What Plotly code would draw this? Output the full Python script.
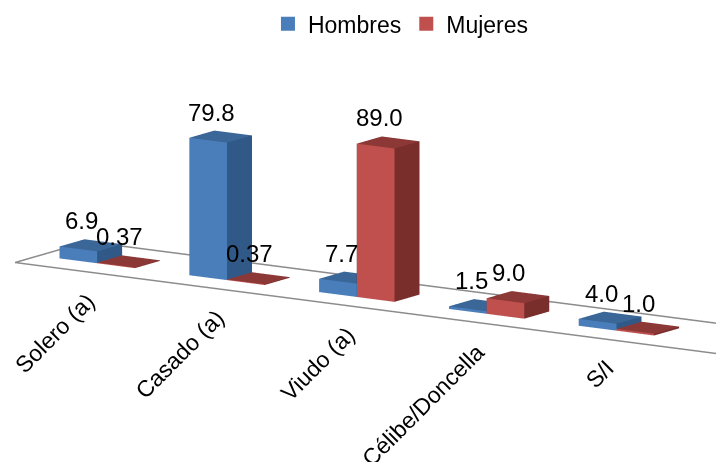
import plotly.graph_objects as go
import numpy as np

categories = ["Solero (a)", "Casado (a)", "Viudo (a)", "Célibe/Doncella", "S/I"]
hombres = [6.9, 79.8, 7.7, 1.5, 4.0]
mujeres = [0.37, 0.37, 89.0, 9.0, 1.0]
hombres_labels = ["6.9", "79.8", "7.7", "1.5", "4.0"]
mujeres_labels = ["0.37", "0.37", "89.0", "9.0", "1.0"]

BW = 0.29                # bar width (category units)
Y0, Y1 = 0.355, 0.645    # bar depth
FY0, FY1 = 0.08, 0.92    # floor depth

def bars_mesh(values, offset, c_front, c_side, c_top, name):
    xs, ys, zs, I, J, K, fc = [], [], [], [], [], [], []
    for idx, v in enumerate(values):
        x0 = idx + offset
        x1 = x0 + BW
        base = len(xs)
        for (x, y, z) in [(x0, Y0, 0), (x1, Y0, 0), (x1, Y1, 0), (x0, Y1, 0),
                          (x0, Y0, v), (x1, Y0, v), (x1, Y1, v), (x0, Y1, v)]:
            xs.append(x); ys.append(y); zs.append(z)
        faces = [
            ((0, 1, 5), c_front), ((0, 5, 4), c_front),
            ((1, 2, 6), c_side), ((1, 6, 5), c_side),
            ((4, 5, 6), c_top), ((4, 6, 7), c_top),
            ((3, 2, 6), c_side), ((3, 6, 7), c_side),
            ((0, 3, 7), c_side), ((0, 7, 4), c_side),
            ((0, 1, 2), c_side), ((0, 2, 3), c_side),
        ]
        for (a, b, c), col in faces:
            I.append(base + a); J.append(base + b); K.append(base + c); fc.append(col)
    return go.Mesh3d(x=xs, y=ys, z=zs, i=I, j=J, k=K, facecolor=fc,
                     flatshading=True, name=name, showlegend=False, hoverinfo="skip",
                     lighting=dict(ambient=1, diffuse=0, specular=0, roughness=1, fresnel=0))

BLUE = ("#4A7EBB", "#305987", "#3A6698")
RED = ("#C0504D", "#7A2E2C", "#8C3836")

fig = go.Figure()
fig.add_trace(bars_mesh(hombres, -BW, *BLUE, "Hombres"))
fig.add_trace(bars_mesh(mujeres, 0.0, *RED, "Mujeres"))

n = len(categories)
XMIN, XMAX = -0.45, 5.5
fig.add_trace(go.Scatter3d(x=[XMIN, XMAX, XMAX, XMIN, XMIN], y=[FY0, FY0, FY1, FY1, FY0],
                           z=[0] * 5, mode="lines", line=dict(color="#8C8C8C", width=3),
                           showlegend=False, hoverinfo="skip"))

fig.add_trace(go.Scatter(x=[None], y=[None], mode="markers", name="Hombres",
                         marker=dict(symbol="square", size=14, color="#4A7EBB")))
fig.add_trace(go.Scatter(x=[None], y=[None], mode="markers", name="Mujeres",
                         marker=dict(symbol="square", size=14, color="#C0504D")))

lab_font = dict(size=24, color="black", family="Liberation Sans")
annotations = []
for i in range(n):
    annotations.append(dict(x=i - BW / 2, y=0.5, z=hombres[i], text=hombres_labels[i],
                            showarrow=False, xanchor="center", yanchor="bottom",
                            xshift=-9, yshift=9, font=lab_font))
    annotations.append(dict(x=i + BW / 2, y=0.5, z=mujeres[i], text=mujeres_labels[i],
                            showarrow=False, xanchor="center", yanchor="bottom",
                            xshift=-9, yshift=9, font=lab_font))
for i, c in enumerate(categories):
    annotations.append(dict(x=i, y=FY0, z=0, text=c, textangle=-45, showarrow=False,
                            xanchor="right", yanchor="top", xshift=29, yshift=-15,
                            font=dict(size=23, color="black", family="Liberation Sans")))

ax_off = dict(visible=False, showbackground=False, showgrid=False, zeroline=False,
              showticklabels=False, title="", showspikes=False)
fig.update_layout(
    width=716, height=462,
    margin=dict(l=0, r=0, t=0, b=0),
    paper_bgcolor="white", plot_bgcolor="white",
    font=dict(family="Liberation Sans", size=23, color="black"),
    xaxis=dict(visible=False), yaxis=dict(visible=False),
    legend=dict(orientation="h", x=0.56, xanchor="center", y=0.995, yanchor="top",
                font=dict(size=23), bgcolor="rgba(0,0,0,0)"),
    scene=dict(
        domain=dict(x=[0, 1], y=[0, 1]),
        xaxis=dict(range=[-0.5, XMAX], **ax_off),
        yaxis=dict(range=[0, 1], **ax_off),
        zaxis=dict(range=[0, 100], **ax_off),
        aspectmode="manual",
        aspectratio=dict(x=4.06, y=0.67, z=0.76),
        camera=dict(eye=dict(x=2.60, y=-4.47, z=0.95), up=dict(x=0, y=0, z=1),
                    center=dict(x=-0.286, y=-0.166, z=-0.072),
                    projection=dict(type="orthographic")),
        annotations=annotations,
    ),
)
fig.write_html("out.html")
